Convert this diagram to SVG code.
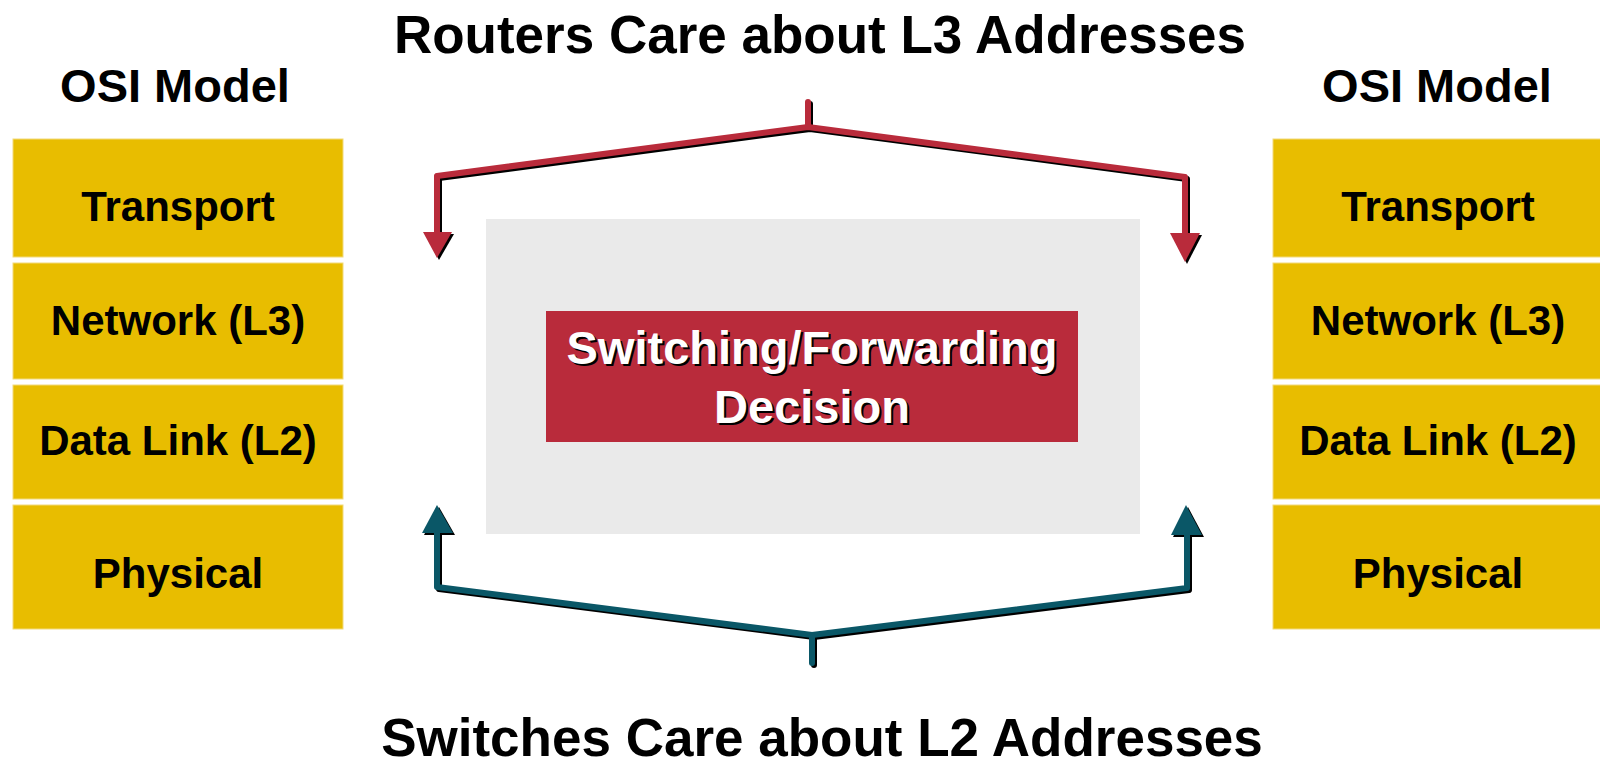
<svg xmlns="http://www.w3.org/2000/svg" width="1600" height="768" viewBox="0 0 1600 768">
<style>
.layer{fill:#E8BD00;stroke:#F2DA7A;stroke-width:1}
.lt{font-family:"Liberation Sans",Arial,sans-serif;font-weight:bold;font-size:42px;fill:#000;text-anchor:middle}
.title{font-family:"Liberation Sans",Arial,sans-serif;font-weight:bold;font-size:53px;fill:#000;text-anchor:middle}
.osi{font-family:"Liberation Sans",Arial,sans-serif;font-weight:bold;font-size:47px;fill:#000;text-anchor:middle}
.dec{font-family:"Liberation Sans",Arial,sans-serif;font-weight:bold;font-size:47px;text-anchor:middle}
.sh{fill:none;stroke:#000;stroke-width:6;stroke-linecap:round;stroke-linejoin:round}
.red{fill:none;stroke:#B92B3B;stroke-width:6;stroke-linecap:round;stroke-linejoin:round}
.teal{fill:none;stroke:#0A5767;stroke-width:6;stroke-linecap:round;stroke-linejoin:round}
</style>
<rect width="1600" height="768" fill="#fff"/>
<text class="title" x="820" y="53">Routers Care about L3 Addresses</text>
<text class="title" x="822" y="756">Switches Care about L2 Addresses</text>

<g id="osi-left">
<text class="osi" x="175" y="102">OSI Model</text>
<rect class="layer" x="13" y="139" width="330" height="118"/>
<text class="lt" x="178" y="221">Transport</text>
<rect class="layer" x="13" y="263" width="330" height="116"/>
<text class="lt" x="178" y="335">Network (L3)</text>
<rect class="layer" x="13" y="385" width="330" height="114"/>
<text class="lt" x="178" y="455">Data Link (L2)</text>
<rect class="layer" x="13" y="505" width="330" height="124"/>
<text class="lt" x="178" y="588">Physical</text>
</g>

<g id="osi-right">
<text class="osi" x="1437" y="102">OSI Model</text>
<rect class="layer" x="1273" y="139" width="330" height="118"/>
<text class="lt" x="1438" y="221">Transport</text>
<rect class="layer" x="1273" y="263" width="330" height="116"/>
<text class="lt" x="1438" y="335">Network (L3)</text>
<rect class="layer" x="1273" y="385" width="330" height="114"/>
<text class="lt" x="1438" y="455">Data Link (L2)</text>
<rect class="layer" x="1273" y="505" width="330" height="124"/>
<text class="lt" x="1438" y="588">Physical</text>
</g>

<g id="decision">
<rect x="486" y="219" width="654" height="315" fill="#EAEAEA"/>
<rect x="546" y="311" width="532" height="131" fill="#B92B3B"/>
<text class="dec" x="814" y="366" fill="#000">Switching/Forwarding</text>
<text class="dec" x="812" y="364" fill="#fff">Switching/Forwarding</text>
<text class="dec" x="814" y="425" fill="#000">Decision</text>
<text class="dec" x="812" y="423" fill="#fff">Decision</text>
</g>

<g id="connectors">
<g transform="translate(2,2)">
<path class="sh" d="M437,232 L437,176 L808,127 L1185,177 L1185,233"/>
<path class="sh" d="M808,102 L808,127"/>
<polygon points="423,232 452,232 437,258" fill="#000"/>
<polygon points="1170,233 1200,233 1185,262" fill="#000"/>
<path class="sh" d="M437,533 L437,587 L812,635 L1187,588 L1187,535"/>
<path class="sh" d="M812,635 L812,663"/>
<polygon points="422,533 453,533 437,505" fill="#000"/>
<polygon points="1171,535 1202,535 1186,505" fill="#000"/>
</g>
<path class="red" d="M437,232 L437,176 L808,127 L1185,177 L1185,233"/>
<path class="red" d="M808,102 L808,127"/>
<polygon points="423,232 452,232 437,258" fill="#B92B3B"/>
<polygon points="1170,233 1200,233 1185,262" fill="#B92B3B"/>
<path class="teal" d="M437,533 L437,587 L812,635 L1187,588 L1187,535"/>
<path class="teal" d="M812,635 L812,663"/>
<polygon points="422,533 453,533 437,505" fill="#0A5767"/>
<polygon points="1171,535 1202,535 1186,505" fill="#0A5767"/>
</g>
</svg>
